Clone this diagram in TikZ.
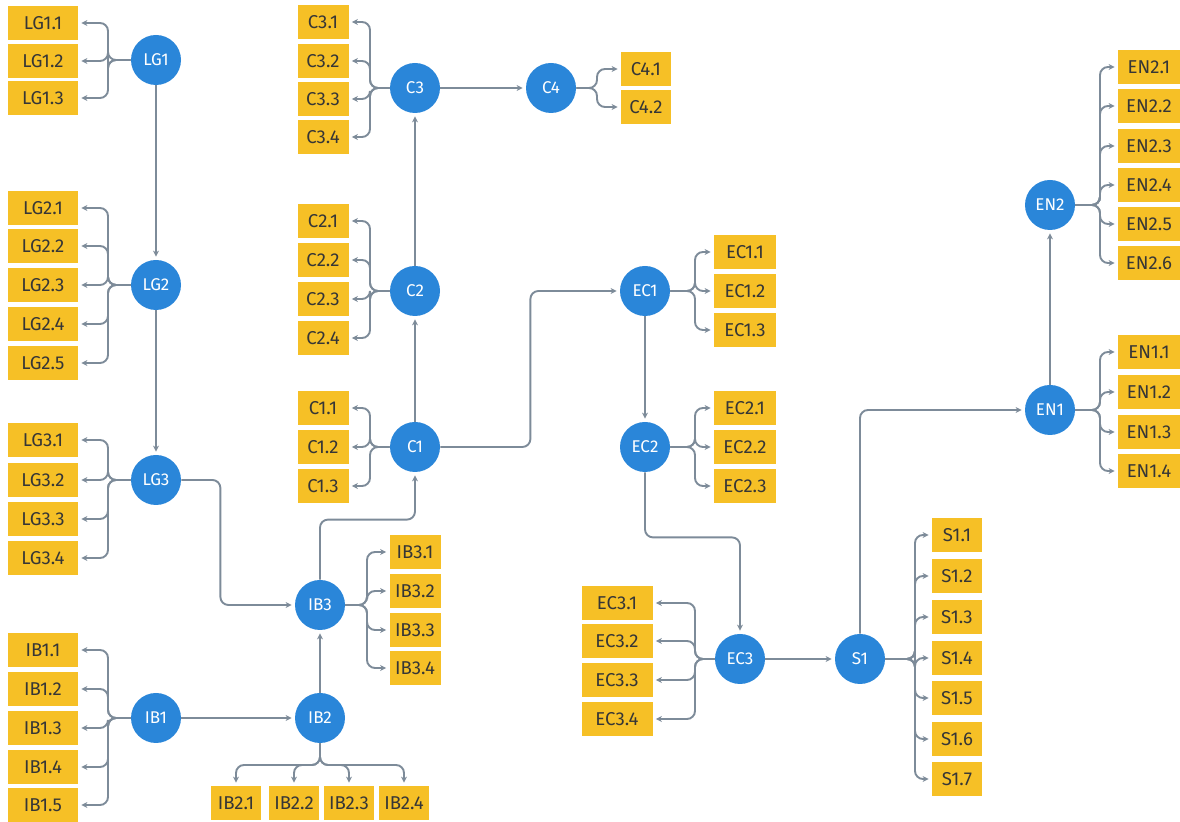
\documentclass[tikz,border=0pt]{standalone}
\usepackage{fontspec}
\setmainfont{Fira Sans}
\usetikzlibrary{positioning,arrows.meta}
\definecolor{hubblue}{HTML}{2A86D9}
\definecolor{leafyellow}{HTML}{F6C026}
\definecolor{leaftext}{HTML}{363636}
\definecolor{linkgray}{HTML}{7D8B99}
\tikzset{
  hub/.style={circle, fill=hubblue, text=white, minimum size=25pt, inner sep=0pt,
    font=\fontsize{8.5}{9}\selectfont},
  leaf/.style={rectangle, fill=leafyellow, text=leaftext, minimum width=#1,
    minimum height=17pt, inner sep=0pt, font=\fontsize{9.3}{10}\selectfont},
  leaf/.default=35pt,
  link/.style={draw=linkgray, line width=0.95pt, rounded corners=4pt,
    -{Stealth[length=3pt,width=3pt]}, shorten >=1.5pt},
}

\begin{document}
\begin{tikzpicture}[x=0.5pt, y=-0.5pt]
  \useasboundingbox (0,0) rectangle (1180,822);

  % hubs
  \node[hub] (LG1) at (156,60) {LG1};
  \node[hub] (LG2) at (156,285) {LG2};
  \node[hub] (LG3) at (156,480) {LG3};
  \node[hub] (IB1) at (156,718) {IB1};
  \node[hub] (IB2) at (320,718) {IB2};
  \node[hub] (IB3) at (320,605) {IB3};
  \node[hub] (C1) at (415,447) {C1};
  \node[hub] (C2) at (415,291) {C2};
  \node[hub] (C3) at (415,88) {C3};
  \node[hub] (C4) at (551,88) {C4};
  \node[hub] (EC1) at (645,291) {EC1};
  \node[hub] (EC2) at (645,447) {EC2};
  \node[hub] (EC3) at (740,659) {EC3};
  \node[hub] (S1) at (860,659) {S1};
  \node[hub] (EN1) at (1050,410) {EN1};
  \node[hub] (EN2) at (1050,205) {EN2};

  % main chain
  \draw[link] (LG1) -- (LG2);
  \draw[link] (LG2) -- (LG3);
  \draw[link] (LG3.east) -- ++(39,0) |- (IB3.west);
  \draw[link] (IB1) -- (IB2);
  \draw[link] (IB2) -- (IB3);
  \draw[link] (IB3.north) -- ++(0,-60) -| (C1.south);
  \draw[link] (C1) -- (C2);
  \draw[link] (C2) -- (C3);
  \draw[link] (C3) -- (C4);
  \draw[link] (C1.east) -- ++(90,0) |- (EC1.west);
  \draw[link] (EC1) -- (EC2);
  \draw[link] (EC2.south) -- ++(0,65) -| (EC3.north);
  \draw[link] (EC3) -- (S1);
  \draw[link] (S1.north) |- (EN1.west);
  \draw[link] (EN1) -- (EN2);

  % fans to the left
  \foreach \h/\bx/\lx/\w/\ys in {
      LG1/108/43/35pt/{23,61,98},
      LG2/108/43/35pt/{208,246,285,324,363},
      LG3/108/43/35pt/{440,480,519,558},
      IB1/108/43/35pt/{650,689,728,767,805},
      C3/370/323/25.5pt/{22,61,99,137},
      C2/370/323/25.5pt/{221,260,299,338},
      C1/370/323/25.5pt/{408,447,486},
      EC3/695/617/35.5pt/{603,641,680,719}} {
    \coordinate (\h b) at (\bx,0 |- \h);
    \foreach \y [count=\i] in \ys {
      \node[leaf=\w] (\h-\i) at (\lx,\y) {\h.\i};
      \draw[link] (\h.west) -- (\h b) |- (\h-\i.east);
    }
  }

  % fans to the right
  \foreach \h/\bx/\lx/\w/\ys in {
      C4/597/646/25pt/{69,107},
      IB3/367/415/25.5pt/{552,591,630,668},
      EC1/695/745/31pt/{252,291,330},
      EC2/695/745/31pt/{408,447,486},
      S1/915/957/25pt/{535,576,617,658,698,739,779},
      EN1/1100/1149/31pt/{352,392,432,471},
      EN2/1100/1149/31pt/{67,106,146,185,224,263}} {
    \coordinate (\h b) at (\bx,0 |- \h);
    \foreach \y [count=\i] in \ys {
      \node[leaf=\w] (\h-\i) at (\lx,\y) {\h.\i};
      \draw[link] (\h.east) -- (\h b) |- (\h-\i.west);
    }
  }

  % fan downwards
  \coordinate (IB2b) at (320,765);
  \foreach \x [count=\i] in {236,294,349,404} {
    \node[leaf=25pt] (IB2-\i) at (\x,803) {IB2.\i};
    \draw[link] (IB2.south) -- (IB2b) -| (IB2-\i.north);
  }
\end{tikzpicture}
\end{document}
